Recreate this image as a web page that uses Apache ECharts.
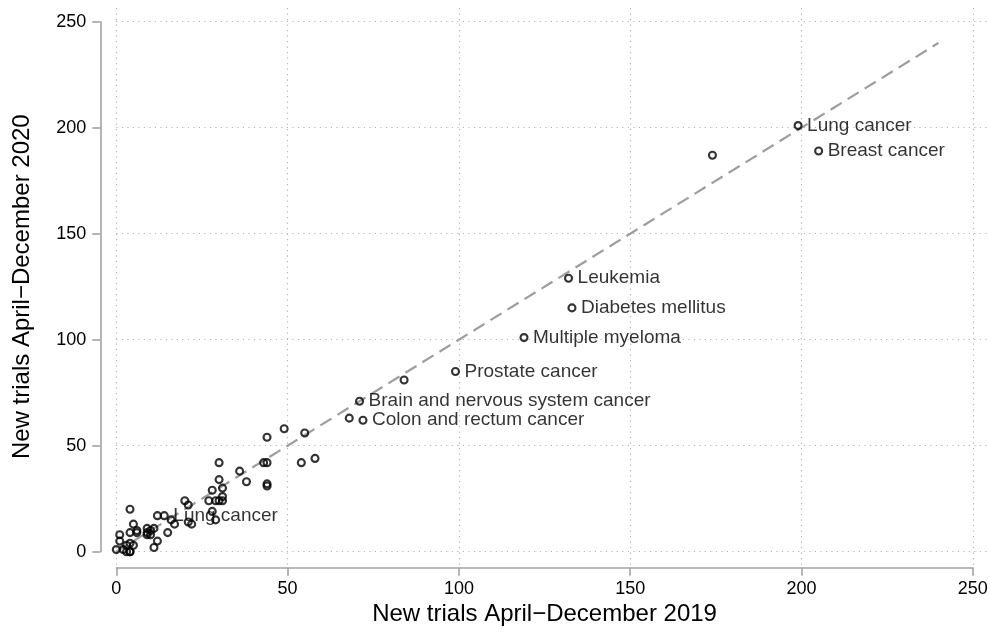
<!DOCTYPE html>
<html>
<head>
<meta charset="utf-8">
<script src="https://cdn.jsdelivr.net/npm/echarts@6/dist/echarts.min.js"></script>
<style>
html,body{margin:0;padding:0;background:#fff;}
#chart{width:990px;height:633px;}
</style>
</head>
<body>
<div id="chart"></div>
<script>
// Labelled conditions
var labeledNames = ["Lung cancer","Breast cancer","Leukemia","Diabetes mellitus","Multiple myeloma","Prostate cancer","Brain and nervous system cancer","Colon and rectum cancer","Lung cancer"];
var labeledX2019 = [199, 205, 132, 133, 119, 99, 71, 72, 14];
var labeledY2020 = [201, 189, 129, 115, 101, 85, 71, 62, 17];

// Unlabelled conditions
var otherX2019 = [174, 84, 68, 55, 49, 44, 58, 54, 43, 44, 44, 44, 30, 36, 38, 30, 28, 31, 31, 27, 29, 30, 31, 28, 29, 20, 21, 21, 22, 17, 16, 12, 15, 11, 12, 11, 4, 5, 4, 1, 1, 0, 2, 3, 4, 4, 3, 4, 5, 6, 9, 10, 9, 9, 10, 6];
var otherY2020 = [187, 81, 63, 56, 58, 54, 44, 42, 42, 42, 32, 31, 42, 38, 33, 34, 29, 30, 26, 24, 24, 24, 24, 19, 15, 24, 22, 14, 13, 13, 15, 17, 9, 11, 5, 2, 20, 13, 9, 8, 5, 1, 1, 0, 0, 0, 3, 4, 3, 10, 11, 10, 9, 8, 8, 9];

// Reference (equality) line
var refLineX = [0, 240];
var refLineY = [0, 240];

// Axes
var axisMin = 0, axisMax = 250, axisStep = 50;
var xTitle = "New trials April\u2212December 2019";
var yTitle = "New trials April\u2212December 2020";

var FONT = '"Liberation Sans", Arial, Helvetica, sans-serif';
var AXIS_GRAY = '#a3a3a3';
var GRID_STYLE = {color: '#b5b5b5', width: 1.2, type: [1.2, 4.3]};

var labeledData = labeledNames.map(function(n, i){ return {name: n, value: [labeledX2019[i], labeledY2020[i]]}; });
var otherData = otherX2019.map(function(x, i){ return [x, otherY2020[i]]; });
var lineData = refLineX.map(function(x, i){ return [x, refLineY[i]]; });

var chart = echarts.init(document.getElementById('chart'), null, {renderer: 'canvas'});

var grids = [
  {left: 116.3, right: 17.2, top: 21.7, bottom: 81.3, outerBoundsMode: 'none', containLabel: false},
  {left: 116.3, right: 17.2, top: 8, bottom: 65, outerBoundsMode: 'none', containLabel: false},
  {left: 116.3, right: 2, top: 21.7, bottom: 81.3, outerBoundsMode: 'none', containLabel: false}
];

var markerStyle = {color: 'rgba(255,255,255,0)', borderColor: '#000', borderWidth: 2.1};

var option = {
  animation: false,
  backgroundColor: '#ffffff',
  grid: grids,
  xAxis: [
    {
      gridIndex: 0, type: 'value', min: axisMin, max: axisMax, interval: axisStep,
      offset: 16,
      axisLine: {show: true, onZero: false, lineStyle: {color: AXIS_GRAY, width: 1.6}},
      axisTick: {show: true, length: 8, lineStyle: {color: AXIS_GRAY, width: 1.6}},
      axisLabel: {color: '#000', fontSize: 18, fontFamily: FONT, margin: 12},
      splitLine: {show: false},
      name: xTitle, nameLocation: 'middle', nameGap: 31,
      nameTextStyle: {color: '#000', fontSize: 24, fontFamily: FONT}
    },
    {
      gridIndex: 1, type: 'value', min: axisMin, max: axisMax, interval: axisStep,
      axisLine: {show: false}, axisTick: {show: false}, axisLabel: {show: false},
      splitLine: {show: true, lineStyle: GRID_STYLE}
    },
    {
      gridIndex: 2, type: 'value', min: axisMin, max: axisMax, interval: axisStep,
      axisLine: {show: false}, axisTick: {show: false}, axisLabel: {show: false},
      splitLine: {show: false}
    }
  ],
  yAxis: [
    {
      gridIndex: 0, type: 'value', min: axisMin, max: axisMax, interval: axisStep,
      offset: 16,
      axisLine: {show: true, onZero: false, lineStyle: {color: AXIS_GRAY, width: 1.6}},
      axisTick: {show: true, length: 8, lineStyle: {color: AXIS_GRAY, width: 1.6}},
      axisLabel: {color: '#000', fontSize: 18, fontFamily: FONT, margin: 14},
      splitLine: {show: false},
      name: yTitle, nameLocation: 'middle', nameGap: 66,
      nameTextStyle: {color: '#000', fontSize: 24, fontFamily: FONT}
    },
    {
      gridIndex: 1, type: 'value', min: axisMin, max: axisMax, interval: axisStep,
      axisLine: {show: false}, axisTick: {show: false}, axisLabel: {show: false},
      splitLine: {show: false}
    },
    {
      gridIndex: 2, type: 'value', min: axisMin, max: axisMax, interval: axisStep,
      axisLine: {show: false}, axisTick: {show: false}, axisLabel: {show: false},
      splitLine: {show: true, lineStyle: GRID_STYLE}
    }
  ],
  series: [
    {
      type: 'line', xAxisIndex: 0, yAxisIndex: 0, data: lineData,
      showSymbol: false, symbol: 'none', silent: true, z: 2,
      lineStyle: {color: '#9d9d9d', width: 2.2, type: [13, 7]}
    },
    {
      type: 'scatter', xAxisIndex: 0, yAxisIndex: 0, data: otherData,
      clip: false, symbol: 'circle', symbolSize: 7, silent: true, z: 3,
      itemStyle: markerStyle
    },
    {
      type: 'scatter', xAxisIndex: 0, yAxisIndex: 0, data: labeledData,
      clip: false, symbol: 'circle', symbolSize: 7, silent: true, z: 3,
      itemStyle: markerStyle,
      label: {
        show: true, position: 'right', distance: 4.5,
        formatter: function(p){ return p.name; },
        color: '#000', fontSize: 19, fontFamily: FONT
      },
      labelLayout: {hideOverlap: false}
    }
  ]
};
chart.setOption(option);
</script>
</body>
</html>
